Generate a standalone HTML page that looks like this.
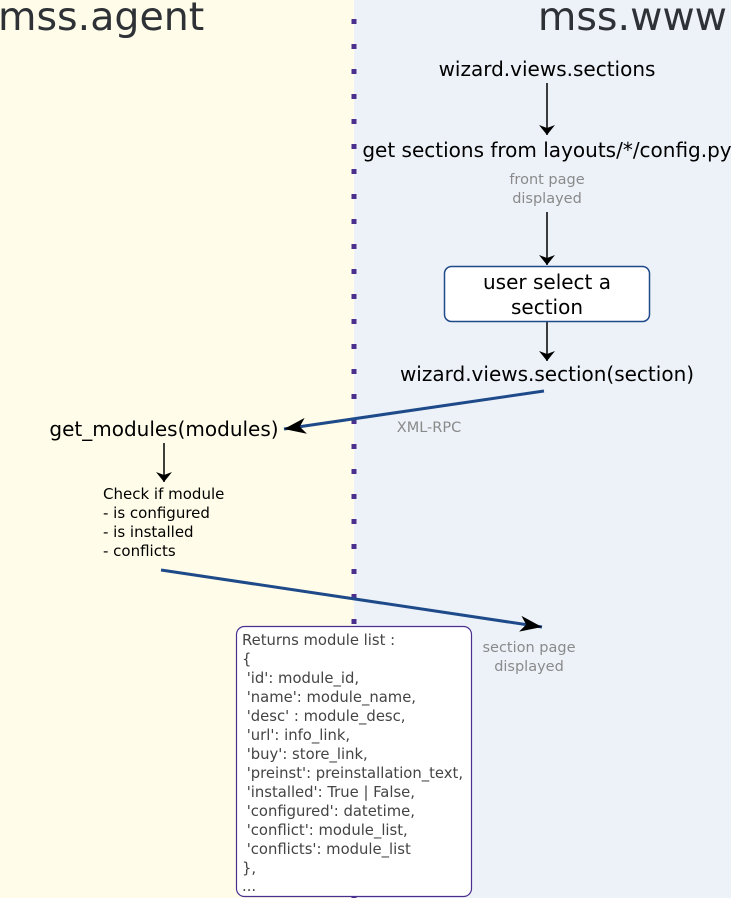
<!DOCTYPE html>
<html><head><meta charset="utf-8"><style>html,body{margin:0;padding:0}svg{display:block}</style></head><body>
<svg width="731" height="898" xmlns="http://www.w3.org/2000/svg" font-family="DejaVu Sans, sans-serif">
<defs>
<marker id="a" viewBox="0 0 10 16" refX="10" refY="8" markerWidth="10" markerHeight="16" markerUnits="userSpaceOnUse" orient="auto"><path d="M0,0 L10,8 L0,16 L3,8 z" fill="#000"/></marker>
<marker id="b" viewBox="0 0 22 16" refX="22" refY="8" markerWidth="22" markerHeight="16" markerUnits="userSpaceOnUse" orient="auto"><path d="M0,0 L22,8 L0,16 L6,8 z" fill="#000"/></marker>
</defs>
<rect x="0" y="0" width="354" height="898" fill="#fffde9"/>
<rect x="354" y="0" width="377" height="898" fill="#edf2f9"/>
<line x1="354" y1="19" x2="354" y2="898" stroke="#4b2f8f" stroke-width="5" stroke-dasharray="5 20"/>
<text x="-2" y="30" font-size="39.5" fill="#2e3236">mss.agent</text>
<text x="727" y="30" font-size="39.5" fill="#2e3236" text-anchor="end">mss.www</text>
<g font-size="20" fill="#000" text-anchor="middle">
<text x="547" y="76">wizard.views.sections</text>
<text x="547" y="157">get sections from layouts/*/config.py</text>
<text x="547" y="381">wizard.views.section(section)</text>
<text x="164" y="436">get_modules(modules)</text>
</g>
<g font-size="14.5" fill="#8a8a8a" text-anchor="middle">
<text x="547" y="184">front page</text>
<text x="547" y="203">displayed</text>
<text x="429" y="432">XML-RPC</text>
<text x="529" y="652">section page</text>
<text x="529" y="671">displayed</text>
</g>
<line x1="547" y1="83" x2="547" y2="135" stroke="#000" stroke-width="1.5" marker-end="url(#a)"/>
<line x1="547" y1="212" x2="547" y2="265" stroke="#000" stroke-width="1.5" marker-end="url(#a)"/>
<line x1="547" y1="322" x2="547" y2="361" stroke="#000" stroke-width="1.5" marker-end="url(#a)"/>
<line x1="164" y1="443" x2="164" y2="482" stroke="#000" stroke-width="1.5" marker-end="url(#a)"/>
<rect x="444.5" y="266.5" width="205" height="55" rx="7" fill="#fff" stroke="#1f4a8a" stroke-width="1.5"/>
<text x="547" y="289" font-size="20" text-anchor="middle">user select a</text>
<text x="547" y="314" font-size="20" text-anchor="middle">section</text>
<line x1="544" y1="391" x2="284" y2="429" stroke="#1f4a8a" stroke-width="3" marker-end="url(#b)"/>
<line x1="161" y1="570" x2="542" y2="627" stroke="#1f4a8a" stroke-width="3" marker-end="url(#b)"/>
<g font-size="15" fill="#000">
<text x="103" y="499">Check if module</text>
<text x="103" y="518">- is configured</text>
<text x="103" y="537">- is installed</text>
<text x="103" y="556">- conflicts</text>
</g>
<rect x="236.5" y="626.5" width="235" height="270" rx="8" fill="#fff" stroke="#4b2f8f" stroke-width="1.2"/>
<g font-size="14.8" fill="#444">
<text x="242" y="645">Returns module list :</text>
<text x="242" y="664">{</text>
<text x="242" y="683">&#160;'id': module_id,</text>
<text x="242" y="702">&#160;'name': module_name,</text>
<text x="242" y="721">&#160;'desc' : module_desc,</text>
<text x="242" y="740">&#160;'url': info_link,</text>
<text x="242" y="759">&#160;'buy': store_link,</text>
<text x="242" y="778">&#160;'preinst': preinstallation_text,</text>
<text x="242" y="797">&#160;'installed': True | False,</text>
<text x="242" y="816">&#160;'configured': datetime,</text>
<text x="242" y="835">&#160;'conflict': module_list,</text>
<text x="242" y="854">&#160;'conflicts': module_list</text>
<text x="242" y="873">},</text>
<text x="242" y="891">...</text>
</g>
</svg>
</body></html>
